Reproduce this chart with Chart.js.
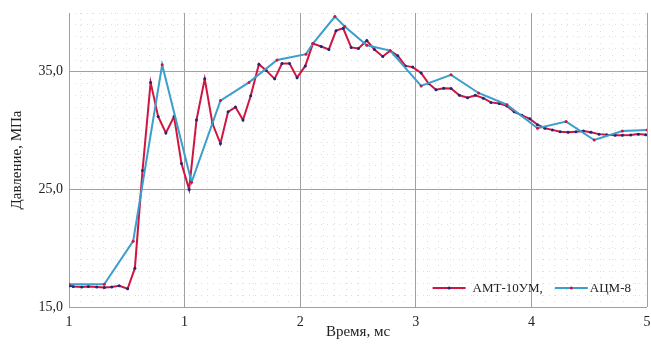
<!DOCTYPE html>
<html>
<head>
<meta charset="utf-8">
<script src="https://cdn.jsdelivr.net/npm/chart.js@4"></script>
<style>
  html, body { margin: 0; padding: 0; background: #fff; }
  #wrap { width: 651px; height: 347px; }
</style>
</head>
<body>
<div id="wrap"><canvas id="c" width="651" height="347"></canvas></div>
<script>
// ---- data ----
const seriesNames = ['АМТ-10УМ,', 'АЦМ-8'];

const amtTime = [0.01, 0.037, 0.11, 0.167, 0.24, 0.305, 0.369, 0.434, 0.507, 0.57,
  0.636, 0.706, 0.771, 0.838, 0.909, 0.973, 1.039, 1.103, 1.174, 1.241,
  1.31, 1.376, 1.44, 1.505, 1.572, 1.643, 1.707, 1.779, 1.842, 1.908,
  1.973, 2.044, 2.11, 2.182, 2.248, 2.31, 2.372, 2.441, 2.504, 2.576,
  2.642, 2.714, 2.778, 2.844, 2.91, 2.973, 3.046, 3.111, 3.175, 3.241,
  3.305, 3.377, 3.448, 3.515, 3.584, 3.65, 3.722, 3.788, 3.851, 3.918,
  3.987, 4.053, 4.117, 4.182, 4.249, 4.318, 4.384, 4.45, 4.514, 4.585,
  4.652, 4.724, 4.787, 4.859, 4.925, 4.989];
const amtPressure = [16.8, 16.75, 16.7, 16.75, 16.7, 16.65, 16.7, 16.8, 16.55, 18.3,
  26.6, 34.1, 31.2, 29.8, 31.2, 27.2, 25.0, 30.9, 34.4, 30.6,
  28.9, 31.6, 32.0, 30.9, 32.96, 35.65, 35.1, 34.4, 35.7, 35.7,
  34.5, 35.5, 37.4, 37.15, 36.9, 38.5, 38.7, 37.07, 36.98, 37.66,
  36.9, 36.3, 36.8, 36.36, 35.5, 35.4, 34.9, 34.0, 33.47, 33.6,
  33.58, 33.0, 32.8, 33.0, 32.76, 32.4, 32.3, 32.1, 31.6, 31.3,
  31.0, 30.5, 30.2, 30.06, 29.9, 29.86, 29.9, 29.97, 29.86, 29.7,
  29.64, 29.6, 29.6, 29.63, 29.7, 29.64];

const acmTime = [0.0, 0.305, 0.555, 0.806, 1.06, 1.31, 1.557, 1.8, 2.05, 2.11,
  2.3, 2.385, 2.576, 2.778, 3.046, 3.305, 3.543, 3.788, 4.053, 4.3,
  4.543, 4.787, 5.0];
const acmPressure = [16.93, 16.93, 20.6, 35.6, 25.6, 32.55, 34.1, 36.0, 36.5, 37.4,
  39.7, 38.85, 37.25, 36.8, 33.8, 34.74, 33.2, 32.2, 30.2, 30.77,
  29.2, 29.97, 30.06];

const xTickValues = [0, 1, 2, 3, 4, 5];
const xTickLabels = ['1', '1', '2', '3', '4', '5'];
const yTickValues = [15, 25, 35];
const yTickLabels = ['15,0', '25,0', '35,0'];
const xTitle = 'Время, мс';
const yTitle = 'Давление, МПа';

// ---- chart ----
const FONT = "'Liberation Serif', 'Times New Roman', serif";
const RED = '#cf1542';
const BLUE = '#3c9fca';
const NAVY = '#1a2a7a';

function pts(xs, ys) { return xs.map((x, i) => ({ x: x, y: ys[i] })); }

const insideLegend = {
  id: 'insideLegend',
  afterDatasetsDraw(chart) {
    const ctx = chart.ctx;
    const area = chart.chartArea;
    const ds = chart.data.datasets;
    ctx.save();
    ctx.font = '13px ' + FONT;
    ctx.textBaseline = 'middle';
    const sample = 33;
    const textGap = [7, 2];
    const itemGap = 12;
    let total = 0;
    ds.forEach((d, i) => {
      total += sample + textGap[i] + ctx.measureText(d.label).width;
      if (i < ds.length - 1) total += itemGap;
    });
    let x = area.right - 16 - total;
    const y = area.bottom - 19;
    ds.forEach((d, i) => {
      ctx.strokeStyle = d.borderColor;
      ctx.lineWidth = 2.2;
      ctx.beginPath();
      ctx.moveTo(x, y);
      ctx.lineTo(x + sample, y);
      ctx.stroke();
      ctx.fillStyle = d.pointBackgroundColor;
      ctx.beginPath();
      ctx.arc(x + sample / 2, y, 1.6, 0, Math.PI * 2);
      ctx.fill();
      x += sample + textGap[i];
      ctx.fillStyle = '#222';
      ctx.fillText(d.label, x, y + 0.5);
      x += ctx.measureText(d.label).width + itemGap;
    });
    ctx.restore();
  }
};

new Chart(document.getElementById('c'), {
  type: 'line',
  data: {
    datasets: [
      {
        label: seriesNames[0],
        data: pts(amtTime, amtPressure),
        borderColor: RED,
        borderWidth: 2,
        pointRadius: 1.5,
        pointBorderWidth: 0,
        pointBackgroundColor: NAVY,
        tension: 0,
        xAxisID: 'x', yAxisID: 'y',
        order: 1
      },
      {
        label: seriesNames[1],
        data: pts(acmTime, acmPressure),
        borderColor: BLUE,
        borderWidth: 2,
        pointRadius: 1.5,
        pointBorderWidth: 0,
        pointBackgroundColor: RED,
        tension: 0,
        xAxisID: 'x', yAxisID: 'y',
        order: 0
      }
    ]
  },
  options: {
    responsive: false,
    animation: false,
    events: [],
    layout: { padding: { left: 0, top: 13, right: 3, bottom: 0 } },
    plugins: { legend: { display: false }, tooltip: { enabled: false } },
    scales: {
      x2: {
        type: 'linear', position: 'bottom', min: 0, max: 5,
        ticks: { display: false, stepSize: 0.1, autoSkip: false },
        grid: { color: '#dedede', lineWidth: 1, drawTicks: false, z: -1 },
        border: { display: false, dash: [1, 5] }
      },
      y2: {
        type: 'linear', position: 'left', min: 15, max: 40,
        ticks: { display: false, stepSize: 1 },
        grid: { color: '#dedede', lineWidth: 1, drawTicks: false, z: -1 },
        border: { display: false, dash: [1, 5] }
      },
      x: {
        type: 'linear', position: 'bottom', min: 0, max: 5,
        afterBuildTicks: (s) => { s.ticks = xTickValues.map(v => ({ value: v })); },
        afterFit: (s) => { s.height = 40; s.paddingLeft = 0; s.paddingRight = 0; },
        ticks: {
          autoSkip: false, maxRotation: 0, padding: 7, color: '#222',
          font: { family: FONT, size: 14 },
          callback: (v, i) => xTickLabels[i]
        },
        grid: { color: '#a0a0a0', lineWidth: 1, drawTicks: false },
        border: { display: false },
        title: { display: true, text: xTitle, color: '#222', font: { family: FONT, size: 15 }, padding: { top: 0, bottom: 6 } }
      },
      y: {
        type: 'linear', position: 'left', min: 15, max: 40,
        afterBuildTicks: (s) => { s.ticks = yTickValues.map(v => ({ value: v })); },
        afterFit: (s) => { s.width = 69; s.paddingTop = 0; s.paddingBottom = 0; },
        ticks: {
          padding: 6, color: '#222',
          font: { family: FONT, size: 14 },
          callback: (v, i) => yTickLabels[i]
        },
        grid: { color: '#a0a0a0', lineWidth: 1, drawTicks: false },
        border: { display: false },
        title: { display: true, text: yTitle, color: '#222', font: { family: FONT, size: 15 }, padding: { top: 8, bottom: 0 } }
      }
    }
  },
  plugins: [insideLegend]
});
</script>
</body>
</html>
